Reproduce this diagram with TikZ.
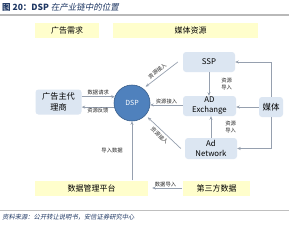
\documentclass[tikz,border=0pt]{standalone}
\usepackage{fontspec}
\setmainfont{Noto Sans CJK SC}
\newfontfamily\cjkslant[FakeSlant=0.2]{Noto Sans CJK SC}
\usetikzlibrary{arrows.meta}
\definecolor{yelc}{RGB}{255,254,204}
\definecolor{bluc}{RGB}{220,230,242}
\definecolor{dspc}{RGB}{79,129,189}
\definecolor{dspb}{RGB}{56,93,138}
\definecolor{arrc}{RGB}{150,160,175}
\definecolor{titc}{RGB}{31,56,100}
\begin{document}
\begin{tikzpicture}[x=1pt,y=-1pt,
  yel/.style={fill=yelc, draw=none, minimum height=15pt, inner sep=0pt, font=\fontsize{8}{10}\selectfont},
  blu/.style={fill=bluc, draw=none, rounded corners=3pt, inner sep=0pt, align=center, font=\fontsize{7.8}{10}\selectfont},
  arr/.style={draw=arrc, line width=0.7pt, -{Stealth[length=3.5pt,width=3pt]}},
  arrb/.style={draw=arrc, line width=0.7pt, {Stealth[length=3.5pt,width=3pt]}-},
  lbl/.style={font=\fontsize{5.3}{6.5}\selectfont, inner sep=1pt, text=black!85, align=center}]
\useasboundingbox (0,0) rectangle (289,225);
\fill[white] (0,0) rectangle (289,225);
% title
\node[anchor=west, inner sep=0pt, text=titc, font=\fontsize{8.5}{10}\selectfont] (title) at (2,7.5) {{\bfseries 图 20：DSP} {\cjkslant 在产业链中的位置}};
\draw[line width=2pt, draw=gray!55] (0,14.5) -- (289,14.5);
% boxes
\node[yel, minimum width=64pt] (req) at (67,30.5) {广告需求};
\node[yel, minimum width=145pt, text width=145pt, align=center] (res) at (185.5,30.5) {\hspace*{10pt}媒体资源};
\node[blu, minimum width=52pt, minimum height=20pt] (ssp) at (209,62) {SSP};
\node[blu, minimum width=46pt, minimum height=25pt, font=\fontsize{8.2}{11}\selectfont] (adv) at (58.5,102) {广告主代\\理商};
\node[circle, fill=dspc, draw=dspb, line width=0.6pt, minimum size=36pt, inner sep=0pt, text=white, font=\fontsize{7}{8}\selectfont] (dsp) at (132,103) {DSP};
\node[blu, minimum width=53pt, minimum height=20pt] (adx) at (209.5,106) {AD\\Exchange};
\node[blu, minimum width=24pt, minimum height=20pt, font=\fontsize{8.5}{10}\selectfont] (media) at (271,107) {媒体};
\node[blu, minimum width=52pt, minimum height=21pt] (adn) at (211,148.5) {Ad\\Network};
\node[yel, minimum width=113pt] (dmp) at (91.5,188) {数据管理平台};
\node[yel, minimum width=67pt] (third) at (216.5,188) {第三方数据};
% footer
\draw[line width=0.8pt, draw=gray!50] (0,210) -- (289,210);
\node[anchor=west, inner sep=0pt, text=titc, font=\cjkslant\fontsize{6.3}{7}\selectfont] (src) at (2,217.5) {资料来源：公开转让说明书，安信证券研究中心};
% connectors
\draw[arr] (adv.east |- dsp.160) -- node[lbl, above]{数据请求} (dsp.160);
\draw[arr] (dsp.193) -- node[lbl, below]{资源反馈} (adv.east |- dsp.193);
\draw[arr] (adx.west |- dsp.354) -- node[lbl, above]{资源接入} (dsp.354);
\draw[arrb, shorten <=3pt] (dsp.52) -- node[lbl, sloped, above=1.5pt]{资源接入} ([xshift=-5pt]ssp.west);
\draw[arrb, shorten <=3pt] (dsp.-42) -- node[lbl, sloped, below=1.5pt]{资源接入} ([xshift=-4pt]adn.west);
\draw[arr] (ssp.south) -- node[lbl, right=11pt]{资源\\导入} (ssp.south |- adx.north);
\draw[arr] (adn.north) -- node[lbl, right=13pt]{资源\\导入} (adn.north |- adx.south);
\draw[arr] (media.west) -- (media.west -| adx.east);
\draw[arr] (media.north) |- (ssp.east);
\draw[arr] (media.south) |- (adn.east);
\draw[arr, shorten >=4pt, shorten <=1pt] (third.west) -- node[lbl, above]{数据导入} (dmp.east);
\draw[arr] (dmp.north -| dsp.south) -- node[lbl, left=8pt]{导入数据} (dsp.south);
\end{tikzpicture}
\end{document}
